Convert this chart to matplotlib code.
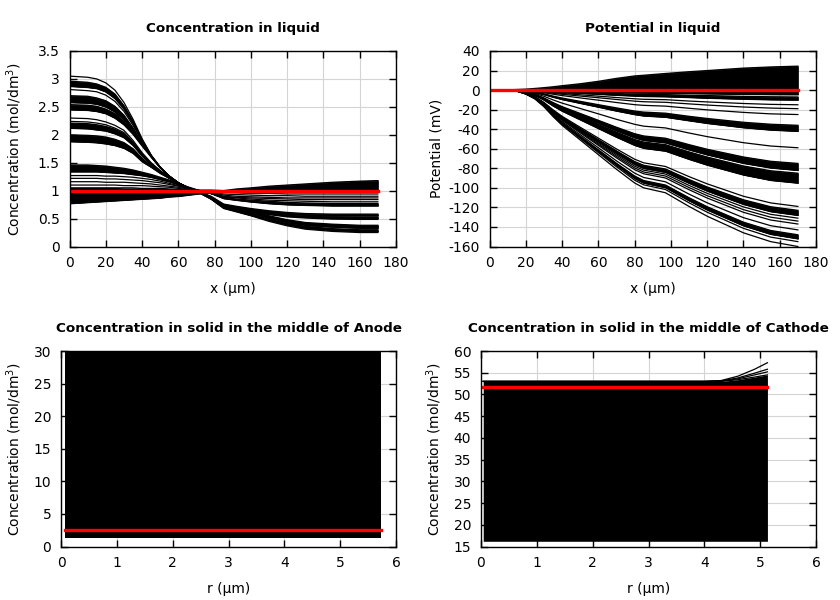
"""Liquid/solid concentration and liquid potential profiles, 2x2 panel figure.

Writes out.png (840x600).
"""

import matplotlib
matplotlib.use("Agg")
import matplotlib.pyplot as plt
from matplotlib.ticker import FuncFormatter, MultipleLocator

plt.rcParams["font.family"] = ["DejaVu Sans"]
plt.rcParams["axes.unicode_minus"] = False

# ---------------------------------------------------------------------------
# data
# ---------------------------------------------------------------------------
# x positions (um) at which the liquid concentration profiles were read
x_conc = [0, 10, 15, 20, 25, 30, 35, 40, 45, 50, 55, 60, 65, 70, 78, 85,
          92, 100, 110, 120, 130, 145, 160, 170]

# concentration in liquid (mol/dm3): start high -> end lowest
conc_high = [
    [3.05, 3.03, 3.00, 2.93, 2.80, 2.58, 2.28, 1.93, 1.64, 1.42, 1.26, 1.14, 1.06, 0.99, 0.85, 0.68, 0.62, 0.55, 0.45, 0.37, 0.31, 0.27, 0.25, 0.25],
    [2.96, 2.94, 2.91, 2.85, 2.73, 2.52, 2.24, 1.91, 1.63, 1.42, 1.26, 1.14, 1.06, 0.99, 0.85, 0.69, 0.63, 0.56, 0.47, 0.39, 0.33, 0.29, 0.27, 0.27],
    [2.87, 2.85, 2.83, 2.77, 2.65, 2.46, 2.20, 1.89, 1.63, 1.42, 1.26, 1.14, 1.06, 0.99, 0.86, 0.70, 0.64, 0.57, 0.48, 0.40, 0.35, 0.31, 0.29, 0.29],
    [2.81, 2.79, 2.77, 2.71, 2.60, 2.42, 2.17, 1.88, 1.62, 1.42, 1.26, 1.14, 1.06, 0.99, 0.86, 0.70, 0.65, 0.58, 0.49, 0.41, 0.36, 0.32, 0.30, 0.30],
    [2.70, 2.69, 2.66, 2.61, 2.51, 2.35, 2.12, 1.85, 1.62, 1.41, 1.26, 1.14, 1.06, 0.99, 0.87, 0.71, 0.66, 0.60, 0.51, 0.43, 0.38, 0.35, 0.33, 0.33],
    [2.58, 2.57, 2.55, 2.50, 2.41, 2.27, 2.07, 1.83, 1.61, 1.41, 1.26, 1.14, 1.06, 1.00, 0.87, 0.72, 0.67, 0.61, 0.53, 0.46, 0.40, 0.37, 0.35, 0.35],
    [2.54, 2.53, 2.51, 2.46, 2.38, 2.24, 2.05, 1.82, 1.61, 1.41, 1.26, 1.14, 1.06, 1.00, 0.88, 0.72, 0.68, 0.62, 0.54, 0.46, 0.41, 0.38, 0.36, 0.36],
    [2.45, 2.44, 2.42, 2.38, 2.30, 2.18, 2.01, 1.80, 1.60, 1.41, 1.26, 1.14, 1.06, 1.00, 0.88, 0.73, 0.69, 0.63, 0.55, 0.48, 0.43, 0.40, 0.38, 0.38],
]
conc_high_bands = [(1, 2), (4, 5), (6, 7)]

conc_mid = [
    [2.30, 2.29, 2.27, 2.23, 2.17, 2.08, 1.90, 1.68, 1.50, 1.36, 1.24, 1.14, 1.06, 0.99, 0.87, 0.71, 0.67, 0.62, 0.57, 0.53, 0.51, 0.49, 0.485, 0.485],
    [2.24, 2.23, 2.21, 2.18, 2.12, 2.04, 1.87, 1.66, 1.49, 1.35, 1.24, 1.14, 1.06, 0.99, 0.87, 0.72, 0.68, 0.63, 0.58, 0.54, 0.52, 0.50, 0.50, 0.50],
    [2.21, 2.20, 2.18, 2.15, 2.10, 2.02, 1.85, 1.65, 1.48, 1.35, 1.23, 1.14, 1.06, 0.99, 0.88, 0.72, 0.68, 0.64, 0.59, 0.55, 0.53, 0.51, 0.51, 0.51],
    [2.12, 2.11, 2.09, 2.07, 2.02, 1.95, 1.81, 1.62, 1.46, 1.34, 1.23, 1.14, 1.06, 0.99, 0.88, 0.73, 0.69, 0.65, 0.60, 0.56, 0.54, 0.53, 0.52, 0.52],
    [2.00, 1.99, 1.98, 1.96, 1.92, 1.86, 1.75, 1.58, 1.44, 1.33, 1.23, 1.13, 1.06, 1.00, 0.89, 0.74, 0.70, 0.66, 0.62, 0.58, 0.56, 0.55, 0.55, 0.55],
    [1.88, 1.87, 1.86, 1.84, 1.81, 1.76, 1.67, 1.52, 1.42, 1.31, 1.22, 1.13, 1.06, 1.00, 0.90, 0.76, 0.72, 0.68, 0.64, 0.61, 0.59, 0.58, 0.58, 0.58],
]
conc_mid_bands = [(2, 3), (4, 5)]

conc_low = [
    [1.46, 1.46, 1.45, 1.44, 1.42, 1.40, 1.37, 1.33, 1.29, 1.24, 1.19, 1.13, 1.07, 1.02, 0.95, 0.86, 0.83, 0.80, 0.77, 0.75, 0.74, 0.73, 0.73, 0.73],
    [1.34, 1.34, 1.34, 1.33, 1.32, 1.31, 1.29, 1.27, 1.24, 1.20, 1.16, 1.11, 1.06, 1.01, 0.95, 0.88, 0.85, 0.83, 0.81, 0.79, 0.78, 0.77, 0.77, 0.77],
    [1.27, 1.27, 1.27, 1.26, 1.26, 1.25, 1.24, 1.22, 1.20, 1.17, 1.13, 1.09, 1.05, 1.01, 0.95, 0.89, 0.87, 0.85, 0.83, 0.82, 0.81, 0.80, 0.80, 0.80],
    [1.22, 1.22, 1.22, 1.21, 1.21, 1.20, 1.19, 1.18, 1.16, 1.14, 1.11, 1.08, 1.04, 1.01, 0.96, 0.90, 0.88, 0.87, 0.86, 0.85, 0.84, 0.84, 0.84, 0.84],
    [1.16, 1.16, 1.16, 1.15, 1.15, 1.15, 1.14, 1.13, 1.12, 1.10, 1.08, 1.06, 1.03, 1.01, 0.97, 0.92, 0.90, 0.89, 0.88, 0.87, 0.87, 0.87, 0.87, 0.87],
    [1.10, 1.10, 1.10, 1.10, 1.10, 1.09, 1.09, 1.09, 1.08, 1.07, 1.06, 1.04, 1.02, 1.00, 0.97, 0.94, 0.93, 0.92, 0.91, 0.91, 0.90, 0.90, 0.90, 0.90],
    [1.05, 1.05, 1.05, 1.05, 1.05, 1.05, 1.05, 1.04, 1.04, 1.04, 1.03, 1.02, 1.01, 1.00, 0.99, 0.97, 0.96, 0.95, 0.95, 0.94, 0.94, 0.94, 0.94, 0.94],
]
conc_low_bands = [(0, 1)]

# fan of curves that start below 1 and end above 1
conc_fan = [
    [1.04, 1.04, 1.04, 1.04, 1.04, 1.03, 1.03, 1.03, 1.03, 1.03, 1.02, 1.02, 1.02, 1.01, 1.01, 1.00, 1.00, 0.99, 0.99, 0.99, 0.98, 0.98, 0.98, 0.98],
    [0.77, 0.79, 0.80, 0.81, 0.82, 0.83, 0.84, 0.85, 0.86, 0.87, 0.89, 0.90, 0.92, 0.94, 0.97, 1.00, 1.03, 1.05, 1.08, 1.10, 1.12, 1.15, 1.17, 1.18],
]
conc_fan_bands = [(0, 1)]

conc_ref_x = [0, 170]
conc_ref = [1.0, 1.0]

# x positions (um) at which the potential profiles were read
x_pot = [0, 10, 15, 20, 25, 30, 35, 40, 50, 60, 70, 80, 85, 97, 110, 120, 140, 155, 170]

# potential in liquid (mV)
pot_up = [
    [0, 0.3, 0.6, 1, 1.7, 2.5, 3.4, 4.5, 6.5, 9, 12, 14.5, 15.2, 17, 18.8, 20, 22.5, 23.7, 24.5],
    [0, 0, 0, -0.1, -0.3, -0.5, -0.8, -1, -1.4, -1.9, -2.3, -2.7, -2.8, -3, -3.3, -3.6, -4.1, -4.4, -4.5],
]
pot_up_bands = [(0, 1)]

pot_small = [
    [0, 0, 0, -0.2, -0.4, -0.7, -1.2, -1.6, -2.2, -2.9, -3.5, -4.2, -4.4, -4.6, -5.2, -5.6, -6.4, -6.8, -7],
    [0, 0, -0.1, -0.3, -0.6, -1.1, -1.7, -2.3, -3.2, -4.1, -5.1, -5.9, -6.3, -6.6, -7.4, -8.1, -9.1, -9.7, -10],
    [0, 0, -0.1, -0.4, -0.8, -1.6, -2.5, -3.4, -4.8, -6.2, -7.6, -8.9, -9.4, -9.8, -11.2, -12.1, -13.7, -14.6, -15],
    [0, 0, -0.1, -0.5, -1.1, -2, -3.2, -4.3, -6.1, -7.8, -9.6, -11.3, -11.9, -12.5, -14.1, -15.3, -17.3, -18.4, -19],
    [0, 0, -0.2, -0.6, -1.4, -2.7, -4.2, -5.6, -8, -10.3, -12.7, -14.9, -15.6, -16.4, -18.6, -20.2, -22.8, -24.3, -25],
    [0, 0, -0.2, -0.9, -2, -3.8, -6.1, -8.1, -11.5, -14.9, -18.2, -21.4, -22.5, -23.6, -26.8, -29, -32.9, -34.9, -36],
    [0, 0, -0.3, -1.1, -2.4, -4.5, -7.1, -9.5, -13.4, -17.3, -21.3, -24.9, -26.3, -27.6, -31.2, -33.9, -38.3, -40.7, -42],
    [0, 0, -0.4, -1.5, -3.3, -6.3, -10, -13.3, -18.8, -24.3, -29.9, -35, -36.9, -38.7, -43.9, -47.6, -53.8, -57.2, -59],
]
pot_small_bands = [(0, 1), (5, 6)]

pot_mid = [
    [0, 0, -0.5, -1.9, -4.2, -8, -12.7, -16.9, -23.9, -30.9, -38, -44.6, -46.9, -49.2, -55.8, -60.5, -68.4, -72.8, -75],
    [0, 0, -0.5, -2.1, -4.6, -8.7, -13.9, -18.5, -26.2, -33.8, -41.5, -48.7, -51.3, -53.8, -61, -66.1, -74.8, -79.5, -82],
    [0, 0, -0.5, -2.1, -4.8, -9, -14.4, -19.1, -27.1, -35.1, -43, -50.5, -53.1, -55.8, -63.2, -68.5, -77.6, -82.5, -85],
    [0, 0, -0.6, -2.4, -5.3, -10.1, -16.1, -21.4, -30.3, -39.2, -48.1, -56.4, -59.4, -62.3, -70.7, -76.6, -86.7, -92.2, -95],
]
pot_mid_bands = [(0, 1), (2, 3)]

pot_low = [
    [0, 0, -0.7, -3, -6.7, -12.6, -20.1, -26.8, -38, -49.1, -60.2, -70.7, -74.4, -78.1, -88.5, -95.9, -108.6, -115.4, -119],
    [0, 0, -0.7, -3.1, -6.9, -13, -20.8, -27.7, -39.2, -50.7, -62.2, -73.1, -76.9, -80.7, -91.5, -99.1, -112.2, -119.3, -123],
    [0, 0, -0.8, -3.2, -7.2, -13.6, -21.6, -28.8, -40.8, -52.8, -64.8, -76, -80, -84, -95.2, -103.2, -116.8, -124.2, -128],
    [0, 0, -0.8, -3.3, -7.3, -13.9, -22.1, -29.5, -41.8, -54, -66.3, -77.8, -81.9, -85.9, -97.5, -105.6, -119.5, -127.1, -131],
    [0, 0, -0.8, -3.4, -7.5, -14.2, -22.6, -30.2, -42.7, -55.3, -67.8, -79.6, -83.8, -87.9, -99.7, -108, -122.3, -130, -134],
    [0, 0, -0.8, -3.4, -7.7, -14.5, -23.2, -30.8, -43.7, -56.5, -69.3, -81.4, -85.6, -89.9, -101.9, -110.4, -125, -132.9, -137],
    [0, 0, -0.9, -3.6, -8, -15.2, -24.2, -32.2, -45.6, -59, -72.4, -84.9, -89.4, -93.8, -106.4, -115.3, -130.5, -138.7, -143],
    [0, 0, -0.9, -3.7, -8.3, -15.7, -25, -33.3, -47.2, -61.1, -74.9, -87.9, -92.5, -97.1, -110.1, -119.3, -135.1, -143.6, -148],
    [0, 0, -0.9, -3.8, -8.5, -16.1, -25.7, -34.2, -48.5, -62.7, -76.9, -90.3, -95, -99.7, -113.1, -122.5, -138.7, -147.4, -152],
    [0, 0, -0.9, -3.9, -8.7, -16.4, -26.2, -34.9, -49.4, -63.9, -78.4, -92.1, -96.9, -101.7, -115.3, -124.9, -141.4, -150.4, -155],
    [0, 0, -1, -4, -9, -17, -27, -36, -51, -66, -81, -95, -100, -105, -119, -129, -146, -155, -160],
]
pot_low_bands = [(1, 2), (7, 8)]

pot_ref_x = [0, 170]
pot_ref = [0, 0]

# solid concentration in the middle of the anode (mol/dm3)
anode_r = [0.07, 5.74]
anode_min = [1.3, 1.3]
anode_max = [30.0, 30.0]
anode_ref = [2.6, 2.6]

# solid concentration in the middle of the cathode (mol/dm3)
cathode_r = [0.04, 4.0, 4.3, 4.6, 4.9, 5.13]
cathode_min = [16.2, 16.2, 16.2, 16.2, 16.2, 16.2]
cathode_top = [
    [53.0, 53.0, 53.2, 54.2, 55.8, 57.3],
    [53.0, 53.0, 53.1, 53.8, 54.9, 55.8],
    [53.0, 53.0, 53.1, 53.6, 54.5, 55.2],
    [53.0, 53.0, 53.0, 53.4, 54.0, 54.5],
]
cathode_ref = [51.6, 51.6, 51.6, 51.6, 51.6, 51.6]

W, H = 840, 600


def rect(l, t, r, b):
    # pixel box -> figure fraction
    return [l / W, 1 - b / H, (r - l) / W, (b - t) / H]


def style(ax, title, xlabel, ylabel, ylab_x):
    ax.set_title(title, fontsize=9.7, fontweight="bold", pad=14)
    ax.set_xlabel(xlabel, fontsize=10)
    ax.set_ylabel(ylabel, fontsize=10)
    ax.xaxis.set_label_coords(0.5, -0.18)
    ax.yaxis.set_label_coords(ylab_x, 0.5)
    ax.grid(True, color="#d4d4d4", lw=0.8)
    ax.set_axisbelow(True)
    ax.tick_params(direction="in", top=True, right=True, length=5, width=1,
                   labelsize=10, pad=7)
    for s in ax.spines.values():
        s.set_linewidth(1.0)
    fmt = FuncFormatter(lambda v, p: f"{v:g}")
    ax.xaxis.set_major_formatter(fmt)
    ax.yaxis.set_major_formatter(fmt)


def draw_group(ax, x, curves, bands):
    for i, j in bands:
        ax.fill_between(x, curves[i], curves[j], color="black", lw=0.6,
                        edgecolor="black")
    for c in curves:
        ax.plot(x, c, color="black", lw=0.9)


fig = plt.figure(figsize=(8.4, 6), dpi=100)

# --- concentration in liquid
ax = fig.add_axes(rect(69.5, 51, 396, 246.5))
for curves, bands in [(conc_high, conc_high_bands), (conc_mid, conc_mid_bands),
                      (conc_low, conc_low_bands), (conc_fan, conc_fan_bands)]:
    draw_group(ax, x_conc, curves, bands)
ax.plot(conc_ref_x, conc_ref, color="red", lw=2.4)
ax.set_xlim(0, 180)
ax.set_ylim(0, 3.5)
ax.xaxis.set_major_locator(MultipleLocator(20))
ax.yaxis.set_major_locator(MultipleLocator(0.5))
style(ax, "Concentration in liquid", "x (µm)", "Concentration (mol/dm$^3$)", -0.14)

# --- potential in liquid
ax = fig.add_axes(rect(489.5, 51, 816, 246.5))
for curves, bands in [(pot_up, pot_up_bands), (pot_small, pot_small_bands),
                      (pot_mid, pot_mid_bands), (pot_low, pot_low_bands)]:
    draw_group(ax, x_pot, curves, bands)
ax.plot(pot_ref_x, pot_ref, color="red", lw=2.4)
ax.set_xlim(0, 180)
ax.set_ylim(-160, 40)
ax.xaxis.set_major_locator(MultipleLocator(20))
ax.yaxis.set_major_locator(MultipleLocator(20))
style(ax, "Potential in liquid", "x (µm)", "Potential (mV)", -0.14)

# --- solid, anode
ax = fig.add_axes(rect(61, 351, 396, 546.5))
ax.fill_between(anode_r, anode_min, anode_max, color="black", lw=0)
ax.plot(anode_r, anode_ref, color="red", lw=2.4)
ax.set_xlim(0, 6)
ax.set_ylim(0, 30)
ax.xaxis.set_major_locator(MultipleLocator(1))
ax.yaxis.set_major_locator(MultipleLocator(5))
style(ax, "Concentration in solid in the middle of Anode", "r (µm)",
      "Concentration (mol/dm$^3$)", -0.11)

# --- solid, cathode
ax = fig.add_axes(rect(481, 351, 816, 546.5))
ax.fill_between(cathode_r, cathode_min, cathode_top[-1], color="black", lw=0)
for c in cathode_top:
    ax.plot(cathode_r, c, color="black", lw=0.9)
ax.plot(cathode_r, cathode_ref, color="red", lw=2.4)
ax.set_xlim(0, 6)
ax.set_ylim(15, 60)
ax.xaxis.set_major_locator(MultipleLocator(1))
ax.yaxis.set_major_locator(MultipleLocator(5))
style(ax, "Concentration in solid in the middle of Cathode", "r (µm)",
      "Concentration (mol/dm$^3$)", -0.11)

fig.savefig("out.png", dpi=100)
